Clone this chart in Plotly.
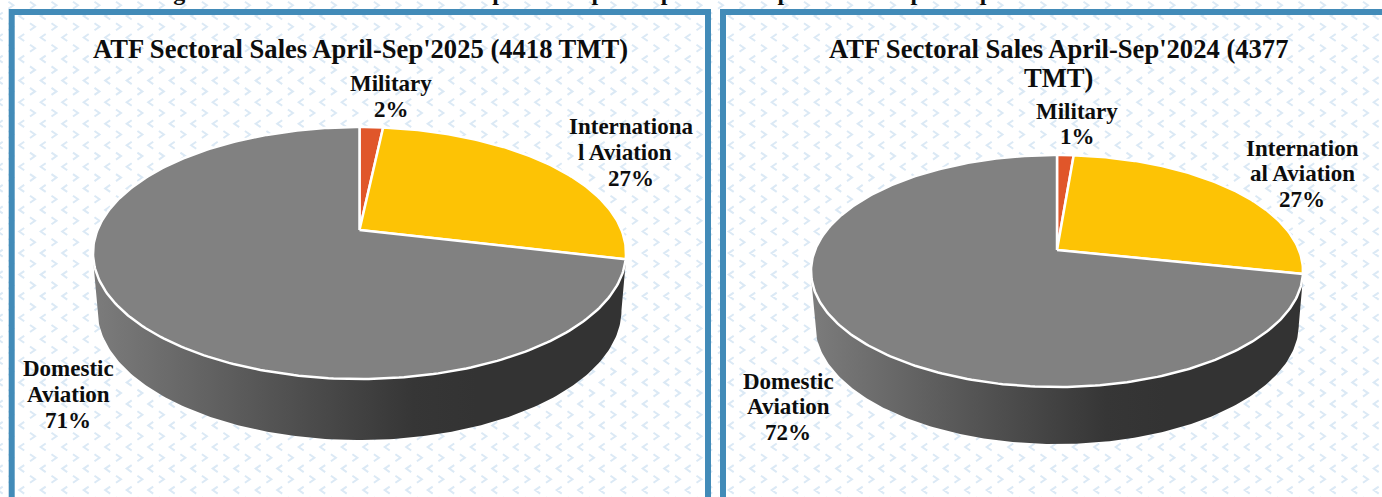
import numpy as np
import plotly.graph_objects as go

W, H = 1382, 497

# ---- data ----
categories = ["Military", "International Aviation", "Domestic Aviation"]
values_2025 = [1.7, 27.0, 71.3]
values_2024 = [1.3, 27.0, 71.7]
label_lines_2025 = [["Military"], ["Internationa", "l Aviation"], ["Domestic", "Aviation"]]
label_lines_2024 = [["Military"], ["Internation", "al Aviation"], ["Domestic", "Aviation"]]
title_lines_2025 = ["ATF Sectoral Sales April-Sep'2025 (4418 TMT)"]
title_lines_2024 = ["ATF Sectoral Sales April-Sep'2024 (4377", "TMT)"]
caption = "Figure 4: Sectoral ATF Sales comparison April-Sep'2025 compared with April-Sep'2024"
slice_colors = ["#E0562A", "#FDC305", "#818181"]

FONT = "Liberation Serif"
LABEL_SIZE = 23
TITLE_SIZE = 26.6

fig = go.Figure()


def add_pie(values, apex, top, bottom, left, right, depth_bottom):
    """Draw a tilted pie whose slices follow a perspective view of a disc."""
    cx = (left + right) / 2
    rx = (right - left) / 2
    up, down = apex - top, bottom - apex
    k = (down - up) / (down + up)
    b = up * (1 + k)
    a = rx * np.sqrt(1 - k * k)

    def proj(theta):
        u, v = np.sin(theta), np.cos(theta)
        d = 1 + k * v
        return cx + a * u / d, apex - b * v / d

    # side wall
    ey = (top + bottom) / 2
    ry = (bottom - top) / 2
    rb = rx * 0.983
    rby = ry * 1.03
    y0 = depth_bottom - rby
    t = np.linspace(np.pi, 0, 180)
    xs = np.concatenate([[left], cx + rb * np.cos(t), [right]])
    ys = np.concatenate([[ey + 6], y0 + rby * np.sin(t), [ey + 6]])
    fig.add_trace(go.Scatter(
        x=xs, y=ys, mode="lines", fill="toself", line=dict(width=0, color="rgba(0,0,0,0)"),
        fillgradient=dict(type="horizontal", colorscale=[
            [0, "#7c7c7c"], [0.3, "#585858"], [0.6, "#363636"], [0.72, "#333333"], [1, "#333333"]]),
        hoverinfo="skip", showlegend=False))

    # top slices
    total = sum(values)
    start = 0.0
    for val, col in zip(values, slice_colors):
        end = start + val / total * 2 * np.pi
        th = np.linspace(start, end, max(3, int(val * 4)))
        px, py = proj(th)
        fig.add_trace(go.Scatter(
            x=np.concatenate([[cx], px, [cx]]),
            y=np.concatenate([[apex], py, [apex]]),
            mode="lines", fill="toself", fillcolor=col,
            line=dict(color="white", width=2.5), hoverinfo="skip", showlegend=False))
        start = end


add_pie(values_2025, apex=230, top=127, bottom=379, left=93, right=626, depth_bottom=440)
add_pie(values_2024, apex=250, top=155, bottom=387, left=811, right=1303, depth_bottom=444)

# background chevrons
path = []
for i in range(-1, 66):
    for j in range(-1, 25):
        x = 21.7 + 21.5 * i
        y = 447 - 21.55 * 21 + 21.55 * j
        path.append(f"M{x + 2.5:.1f},{y - 3.5:.1f}L{x - 2.5:.1f},{y:.1f}L{x + 2.5:.1f},{y + 3.5:.1f}")
        x2, y2 = x + 10.75, y + 10.78
        path.append(f"M{x2 - 2.5:.1f},{y2 - 3.5:.1f}L{x2 + 2.5:.1f},{y2:.1f}L{x2 - 2.5:.1f},{y2 + 3.5:.1f}")

shapes = [
    dict(type="path", path="".join(path), layer="below", line=dict(color="#dbe9f5", width=2)),
    dict(type="rect", x0=11.7, y0=12, x1=708, y1=530, layer="below", line=dict(color="#428BB8", width=6)),
    dict(type="rect", x0=723, y0=12, x1=1420, y1=530, layer="below", line=dict(color="#428BB8", width=6)),
]

annotations = []


def text(x, y, s, size=LABEL_SIZE, yshift=0):
    annotations.append(dict(x=x, y=y, text=f"<b>{s}</b>", showarrow=False, xref="x", yref="y",
                            xanchor="center", yanchor="middle", yshift=yshift,
                            font=dict(family=FONT, size=size, color="#0d0d0d")))


def labels(values, lines, spots, pitch):
    for val, ln, (x, y) in zip(values, lines, spots):
        rows = ln + [f"{round(val)}%"]
        for n, row in enumerate(rows):
            text(x[n] if isinstance(x, list) else x, y + n * pitch, row)


labels(values_2025, label_lines_2025,
       [(391, 83), ([631, 625, 631], 126), (68, 368)], 26)
labels(values_2024, label_lines_2024,
       [(1077, 111), (1302, 148), (788, 381)], 25.5)

text(360, 49, title_lines_2025[0], TITLE_SIZE)
text(1058, 49, title_lines_2024[0], TITLE_SIZE)
text(1058, 78, title_lines_2024[1], TITLE_SIZE)
text(600, 1, caption, 24, yshift=9)

fig.update_layout(
    width=W, height=H, margin=dict(l=0, r=0, t=0, b=0),
    paper_bgcolor="white", plot_bgcolor="white", showlegend=False,
    xaxis=dict(range=[0, W], visible=False, fixedrange=True),
    yaxis=dict(range=[H, 0], visible=False, fixedrange=True),
    shapes=shapes, annotations=annotations,
)
fig.write_html("out.html", config=dict(displayModeBar=False),
               post_script="document.body.style.margin='0';document.body.style.overflow='hidden';")
